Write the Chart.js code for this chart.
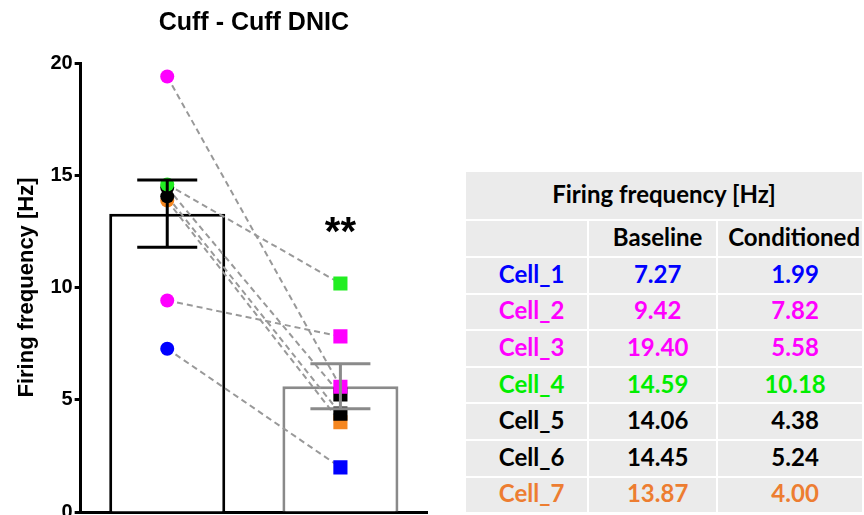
<!DOCTYPE html>
<html>
<head>
<meta charset="utf-8">
<script src="https://cdn.jsdelivr.net/npm/chart.js@4.4.1/dist/chart.umd.min.js"></script>
<style>
  html, body { margin: 0; padding: 0; background: #fff; overflow: hidden; }
  #wrap { position: absolute; left: 0; top: 0; width: 440px; height: 539px; }
  #tbl { position: absolute; left: 464px; top: 170px; border-collapse: collapse; font-family: Lato, "Open Sans", sans-serif; font-weight: bold; font-size: 24px; }
  #tbl td { background: #ebebeb; border: 2px solid #fff; text-align: center; padding: 0 0 4px 10px; }
</style>
</head>
<body>
<div id="wrap"><canvas id="myChart"></canvas></div>
<table id="tbl"></table>
<script>
var categories = ['Baseline', 'Conditioned']
var cellNames = ['Cell_1', 'Cell_2', 'Cell_3', 'Cell_4', 'Cell_5', 'Cell_6', 'Cell_7']
var baselineValues = [7.27, 9.42, 19.40, 14.59, 14.06, 14.45, 13.87]
var conditionedValues = [1.99, 7.82, 5.58, 10.18, 4.38, 5.24, 4.00]
var meanValues = [13.29, 5.60]
var semValues = [1.5, 1.0]
var yTicks = [0, 5, 10, 15, 20]
var sigLabel = '**'
var sigValue = 12.75
var chartTitle = 'Cuff - Cuff DNIC'

var cellColors = ['#0000ff', '#ff00ff', '#ff00ff', '#22ee22', '#000000', '#000000', '#f5861f']
var tableColors = ['#0000ff', '#ff00ff', '#ff00ff', '#00ee00', '#000000', '#000000', '#ed7d31']
var barColors = ['#000000', '#8a8a8a']

// table on the right
var tbl = document.getElementById('tbl')
var html = '<colgroup><col style="width:128px"><col style="width:132px"><col style="width:146px"></colgroup>'
html += '<tr style="height:49px"><td colspan="3" style="padding-left:0">Firing frequency [Hz]</td></tr>'
html += '<tr style="height:37px"><td></td><td>' + categories[0] + '</td><td style="text-align:left;padding-left:10px">' + categories[1] + '</td></tr>'
for (var i = 0; i < cellNames.length; i++) {
    html += '<tr style="height:36.6px;color:' + tableColors[i] + '"><td>' + cellNames[i] + '</td><td>' +
        baselineValues[i].toFixed(2) + '</td><td>' + conditionedValues[i].toFixed(2) + '</td></tr>'
}
tbl.innerHTML = html

var datasets = [{
    type: 'bar',
    data: meanValues,
    backgroundColor: '#ffffff',
    borderColor: barColors,
    borderWidth: 3,
    categoryPercentage: 1,
    barPercentage: 0.67,
    order: 10
}]
for (var i = 0; i < cellNames.length; i++) {
    datasets.push({
        type: 'line',
        label: cellNames[i],
        data: [baselineValues[i], conditionedValues[i]],
        borderColor: '#999999',
        borderWidth: 2,
        borderDash: [6, 4],
        pointStyle: ['circle', 'rect'],
        pointRadius: [7, 10],
        pointBorderWidth: 0,
        pointBackgroundColor: cellColors[i],
        pointBorderColor: cellColors[i],
        order: 1
    })
}

var errorBars = {
    id: 'errorBars',
    afterDatasetsDraw: function (chart) {
        var ctx = chart.ctx, x = chart.scales.x, y = chart.scales.y
        ctx.save()
        ctx.lineWidth = 3
        for (var i = 0; i < meanValues.length; i++) {
            var cx = x.getPixelForValue(i)
            var top = y.getPixelForValue(meanValues[i] + semValues[i])
            var bot = y.getPixelForValue(meanValues[i] - semValues[i])
            ctx.strokeStyle = barColors[i]
            ctx.beginPath()
            ctx.moveTo(cx, top); ctx.lineTo(cx, bot)
            ctx.moveTo(cx - 30, top); ctx.lineTo(cx + 30, top)
            ctx.moveTo(cx - 30, bot); ctx.lineTo(cx + 30, bot)
            ctx.stroke()
        }
        ctx.fillStyle = '#000'
        ctx.textAlign = 'center'
        ctx.textBaseline = 'middle'
        // significance mark
        ctx.font = 'bold 40px "Liberation Sans", Arial, sans-serif'
        ctx.fillText(sigLabel, x.getPixelForValue(1), y.getPixelForValue(sigValue) + 8)
        // title centred over the plot area
        ctx.font = 'bold 25px "Liberation Sans", Arial, sans-serif'
        ctx.fillText(chartTitle, (chart.chartArea.left + chart.chartArea.right) / 2, 23)
        ctx.restore()
    }
}

chart = new Chart('myChart', {
    data: { labels: categories, datasets: datasets },
    plugins: [errorBars],
    options: {
        responsive: true,
        maintainAspectRatio: false,
        animation: false,
        layout: { padding: { left: 14, right: 13, top: 63, bottom: 19 } },
        plugins: {
            legend: { display: false },
            tooltip: { enabled: false }
        },
        scales: {
            x: {
                ticks: { display: false },
                grid: { display: false },
                border: { color: '#000', width: 3 }
            },
            y: {
                min: 0,
                max: 20,
                afterBuildTicks: function (axis) { axis.ticks = yTicks.map(function (v) { return { value: v } }) },
                ticks: {
                    color: '#000',
                    padding: 2,
                    font: { family: '"Liberation Sans", Arial, sans-serif', size: 20, weight: 'bold' }
                },
                grid: { drawOnChartArea: false, drawTicks: true, tickLength: 6, tickWidth: 3, tickColor: '#000' },
                border: { color: '#000', width: 3 },
                title: {
                    display: true,
                    text: 'Firing frequency [Hz]',
                    color: '#000',
                    padding: { top: 0, bottom: 8 },
                    font: { family: '"Liberation Sans", Arial, sans-serif', size: 22, weight: 'bold' }
                }
            }
        }
    }
})
</script>
</body>
</html>
